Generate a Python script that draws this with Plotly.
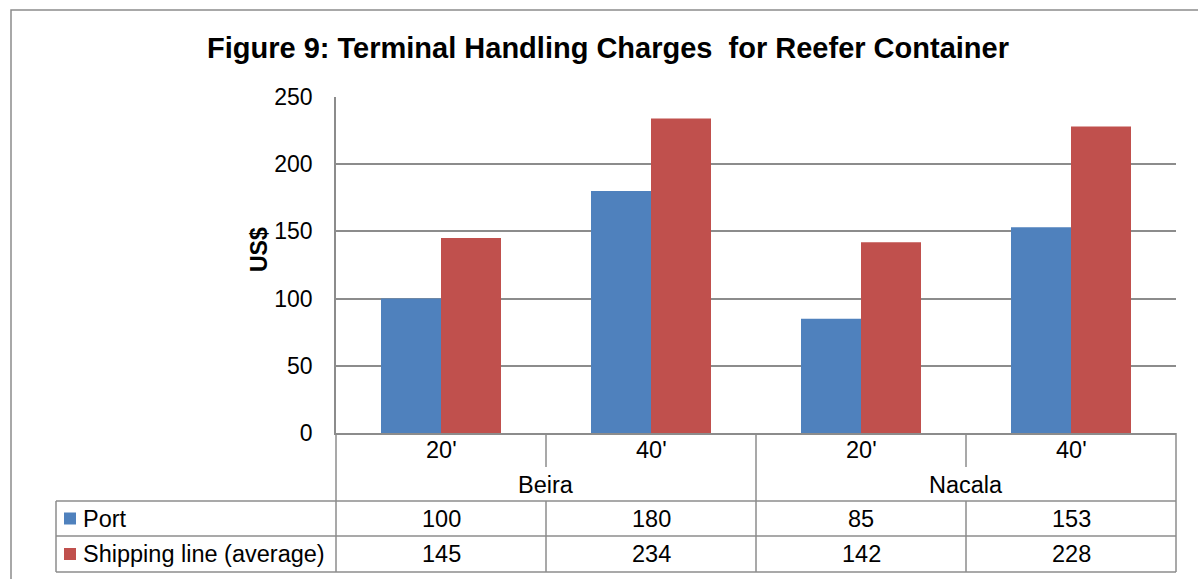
import plotly.graph_objects as go

# Chart data
ports = ["Beira", "Beira", "Nacala", "Nacala"]
sizes = ["20'", "40'", "20'", "40'"]
port_charges = [100, 180, 85, 153]
shipping_line_charges = [145, 234, 142, 228]
series_names = ["Port", "Shipping line (average)"]
series_colors = ["#4F81BD", "#C0504D"]
y_ticks = [0, 50, 100, 150, 200, 250]

W, H = 1198, 579
L, R, T, B = 336, 1176, 97, 433  # plot area in pixels
PW, PH = R - L, B - T

FONT = "Liberation Sans, Arial, sans-serif"
GRID = "#8c8c8c"


def px_x(px):
    return (px - L) / PW


def px_y(py):
    return (B - py) / PH


x_pos = list(range(len(sizes)))

fig = go.Figure()
for name, vals, col in zip(series_names, [port_charges, shipping_line_charges], series_colors):
    fig.add_trace(go.Bar(
        x=x_pos, y=vals, name=name, marker=dict(color=col, line=dict(width=0)),
        showlegend=False,
    ))

shapes = []
annotations = []

# outer chart border (top and left edges visible)
shapes.append(dict(type="rect", xref="paper", yref="paper",
                   x0=px_x(11), x1=px_x(1205), y0=px_y(600), y1=px_y(10),
                   line=dict(color="#8c8c8c", width=1.5)))

# data table grid
row_cat_mid = 467
row_port_top, row_ship_top, row_bottom = 501, 536, 572
line = dict(color=GRID, width=1.5)
# horizontals
for py, x0 in [(row_port_top, 56), (row_ship_top, 56), (row_bottom, 56)]:
    shapes.append(dict(type="line", xref="paper", yref="paper",
                       x0=px_x(x0), x1=px_x(R), y0=px_y(py), y1=px_y(py), line=line))
# label column verticals
shapes.append(dict(type="line", xref="paper", yref="paper",
                   x0=px_x(56), x1=px_x(56), y0=px_y(row_port_top), y1=px_y(row_bottom), line=line))
shapes.append(dict(type="line", xref="paper", yref="paper",
                   x0=0, x1=0, y0=px_y(B), y1=px_y(row_bottom), line=line))
shapes.append(dict(type="line", xref="paper", yref="paper",
                   x0=1, x1=1, y0=px_y(B), y1=px_y(row_bottom), line=line))
# column separators between categories
for i in range(len(sizes) - 1):
    xb = i + 0.5
    same_group = ports[i] == ports[i + 1]
    shapes.append(dict(type="line", xref="x", yref="paper",
                       x0=xb, x1=xb, y0=px_y(B),
                       y1=px_y(row_cat_mid if same_group else row_bottom), line=line))
    if same_group:
        shapes.append(dict(type="line", xref="x", yref="paper",
                           x0=xb, x1=xb, y0=px_y(row_port_top), y1=px_y(row_bottom), line=line))

tfont = dict(family=FONT, size=23.5, color="#000")


def label(x, y, text, xref="x", xanchor="center"):
    annotations.append(dict(x=x, y=y, xref=xref, yref="paper", text=text, showarrow=False,
                            xanchor=xanchor, yanchor="middle", font=tfont))


# size labels
for i, s in enumerate(sizes):
    label(i, px_y(450), s)
# port group labels
groups = []
for i, p in enumerate(ports):
    if groups and groups[-1][0] == p:
        groups[-1][1].append(i)
    else:
        groups.append((p, [i]))
for p, idx in groups:
    label(sum(idx) / len(idx), px_y(485), p)
# values rows
row_centres = [(row_port_top + row_ship_top) / 2, (row_ship_top + row_bottom) / 2]
for vals, yc in zip([port_charges, shipping_line_charges], row_centres):
    for i, v in enumerate(vals):
        label(i, px_y(yc), str(v))
# row headers with legend keys
for name, col, yc in zip(series_names, series_colors, row_centres):
    shapes.append(dict(type="rect", xref="paper", yref="paper",
                       x0=px_x(64), x1=px_x(76), y0=px_y(yc + 6), y1=px_y(yc - 6),
                       fillcolor=col, line=dict(width=0)))
    label(px_x(81), px_y(yc), name, xref="paper", xanchor="left")

# y axis title
annotations.append(dict(x=px_x(259), y=px_y(250), xref="paper", yref="paper", text="<b>US$</b>",
                        textangle=-90, showarrow=False, xanchor="center", yanchor="middle",
                        font=dict(family=FONT, size=23, color="#000")))

fig.update_layout(
    width=W, height=H,
    margin=dict(l=L, r=W - R, t=T, b=H - B, pad=0),
    paper_bgcolor="white", plot_bgcolor="white",
    barmode="group", bargap=90 / 210, bargroupgap=0,
    title=dict(text="<b>Figure 9: Terminal Handling Charges  for Reefer Container</b>",
               x=608 / W, xanchor="center", y=1 - 48 / H, yanchor="middle",
               font=dict(family=FONT, size=29, color="#000")),
    xaxis=dict(range=[-0.5, len(sizes) - 0.5], showticklabels=False, ticks="",
               showgrid=False, showline=True, linecolor=GRID, linewidth=1.5, zeroline=False),
    yaxis=dict(range=[0, 250], tickvals=y_ticks, showgrid=True, gridcolor=GRID, gridwidth=1.5,
               showline=True, linecolor=GRID, linewidth=1.5, zeroline=False, ticks="",
               ticklabelstandoff=17, tickfont=dict(family=FONT, size=23, color="#000")),
    shapes=shapes, annotations=annotations,
    font=dict(family=FONT),
)

fig.write_html("out.html")
